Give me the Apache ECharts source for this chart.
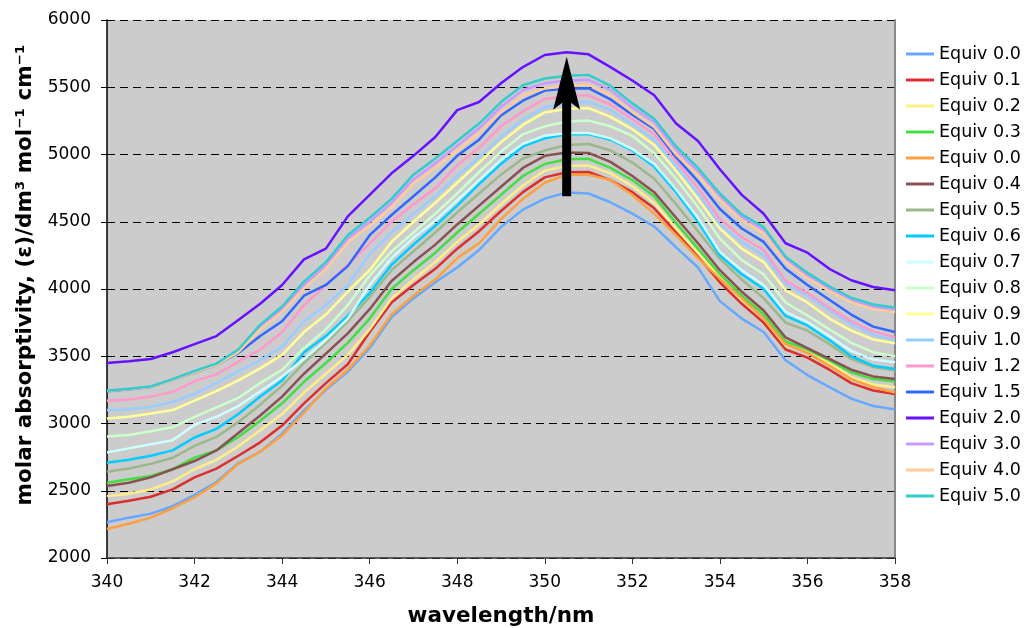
<!DOCTYPE html>
<html><head><meta charset="utf-8">
<script src="https://cdn.jsdelivr.net/npm/echarts@6/dist/echarts.min.js"></script>
<style>html,body{margin:0;padding:0;background:#fff}#chart{width:1024px;height:628px}</style>
</head><body><div id="chart"></div>
<script>
const wavelengths = [340,340.5,341,341.5,342,342.5,343,343.5,344,344.5,345,345.5,346,346.5,347,347.5,348,348.5,349,349.5,350,350.5,351,351.5,352,352.5,353,353.5,354,354.5,355,355.5,356,356.5,357,357.5,358];

const eq00a = [2266,2300,2330,2385,2470,2565,2705,2790,2925,3095,3250,3385,3560,3790,3930,4050,4160,4290,4460,4590,4672,4718,4710,4645,4560,4465,4310,4160,3910,3780,3680,3470,3360,3270,3185,3130,3105];
const eq01 = [2400,2425,2455,2510,2600,2665,2760,2860,2985,3150,3300,3440,3680,3900,4030,4150,4300,4430,4580,4720,4830,4868,4870,4810,4720,4600,4420,4240,4050,3890,3750,3550,3490,3400,3300,3245,3220];
const eq02 = [2460,2478,2510,2570,2660,2730,2830,2950,3070,3230,3370,3510,3700,3930,4070,4200,4350,4480,4630,4770,4880,4915,4918,4860,4765,4640,4450,4270,4085,3920,3780,3580,3545,3450,3345,3290,3270];
const eq03 = [2560,2585,2610,2660,2746,2800,2900,3020,3150,3310,3450,3600,3780,4000,4140,4270,4420,4560,4700,4840,4930,4965,4968,4900,4810,4690,4490,4300,4110,3950,3810,3610,3550,3470,3380,3330,3313];
const eq00b = [2215,2255,2300,2370,2450,2555,2700,2790,2910,3080,3260,3400,3580,3810,3950,4070,4230,4340,4520,4670,4790,4850,4850,4810,4700,4560,4400,4230,4075,3930,3780,3590,3525,3430,3330,3270,3230];
const eq04 = [2535,2560,2600,2660,2721,2800,2930,3060,3200,3370,3520,3670,3850,4060,4200,4330,4480,4620,4760,4900,4990,5015,5012,4945,4840,4720,4530,4340,4140,3980,3840,3640,3560,3480,3400,3350,3331];
const eq05 = [2642,2665,2700,2745,2833,2900,3010,3140,3280,3450,3600,3760,3940,4140,4280,4420,4570,4710,4850,4970,5030,5070,5078,5030,4940,4820,4630,4430,4226,4070,3930,3750,3690,3590,3480,3420,3393];
const eq06 = [2709,2730,2760,2800,2896,2960,3070,3200,3320,3530,3650,3800,3970,4180,4330,4470,4620,4780,4930,5060,5120,5150,5152,5110,5030,4910,4720,4500,4250,4110,4000,3800,3729,3620,3500,3430,3405];
const eq07 = [2785,2815,2845,2875,2990,3050,3130,3240,3350,3480,3620,3780,4030,4230,4380,4510,4660,4810,4960,5080,5140,5160,5160,5120,5040,4930,4740,4530,4276,4140,4030,3830,3754,3650,3540,3475,3455];
const eq08 = [2903,2915,2942,2972,3050,3120,3190,3300,3400,3560,3700,3880,4100,4280,4420,4560,4710,4870,5020,5150,5209,5245,5252,5210,5139,5010,4820,4610,4375,4215,4110,3900,3803,3700,3600,3530,3500];
const eq09 = [3037,3050,3075,3100,3170,3240,3320,3410,3510,3680,3810,3980,4140,4350,4500,4640,4790,4940,5090,5220,5313,5340,5345,5280,5188,5070,4880,4670,4450,4300,4200,3990,3900,3780,3690,3625,3597];
const eq10 = [3100,3105,3125,3160,3220,3300,3390,3470,3570,3760,3880,4030,4260,4420,4560,4690,4840,4980,5130,5260,5350,5385,5390,5330,5225,5110,4910,4710,4480,4350,4250,4040,3950,3840,3740,3660,3620];
const eq12 = [3170,3178,3200,3235,3315,3365,3460,3550,3680,3880,4030,4180,4340,4500,4630,4750,4920,5050,5210,5320,5413,5435,5440,5370,5263,5150,4950,4750,4520,4385,4290,4060,3970,3860,3760,3685,3640];
const eq15 = [3240,3255,3272,3325,3380,3435,3525,3650,3760,3950,4030,4170,4400,4550,4690,4830,4990,5110,5290,5400,5475,5490,5493,5410,5295,5190,4980,4800,4595,4450,4350,4150,4030,3920,3810,3720,3680];
const eq20 = [3450,3462,3480,3530,3590,3650,3770,3890,4030,4220,4300,4540,4700,4860,4990,5130,5330,5390,5530,5650,5740,5760,5745,5650,5550,5440,5230,5100,4890,4700,4560,4340,4270,4150,4065,4015,3990];
const eq30 = [3244,3258,3274,3328,3386,3440,3540,3720,3850,4030,4175,4375,4500,4640,4815,4935,5065,5195,5355,5480,5530,5550,5555,5480,5350,5240,5035,4875,4690,4535,4440,4225,4105,4005,3920,3870,3848];
const eq40 = [3242,3256,3272,3325,3382,3435,3530,3700,3830,4005,4150,4345,4470,4605,4785,4900,5030,5160,5315,5440,5490,5510,5518,5440,5315,5205,5000,4845,4660,4510,4415,4200,4080,3985,3900,3850,3828];
const eq50 = [3244,3258,3275,3330,3390,3445,3550,3735,3870,4055,4200,4400,4530,4670,4850,4970,5100,5230,5390,5515,5565,5585,5592,5510,5380,5265,5060,4900,4710,4555,4460,4240,4120,4020,3935,3885,3862];

const seriesNames = ['Equiv 0.0','Equiv 0.1','Equiv 0.2','Equiv 0.3','Equiv 0.0 ','Equiv 0.4','Equiv 0.5','Equiv 0.6','Equiv 0.7','Equiv 0.8','Equiv 0.9','Equiv 1.0','Equiv 1.2','Equiv 1.5','Equiv 2.0','Equiv 3.0','Equiv 4.0','Equiv 5.0'];
const seriesValues = [eq00a,eq01,eq02,eq03,eq00b,eq04,eq05,eq06,eq07,eq08,eq09,eq10,eq12,eq15,eq20,eq30,eq40,eq50];
const seriesColors = ['#66A8FF','#DD2E2E','#FFEE88','#44DD44','#FFA040','#885252','#9CB88A','#00CCFF','#CCFFFF','#CCFFCC','#FFFF99','#99CCFF','#FF99CC','#3366FF','#6611FF','#CC99FF','#FFCC99','#33CCCC'];

const arrowWavelength = 350.5;
const arrowFrom = 4690;
const arrowTo = 5727;

const FONT = 'DejaVu Sans';
const chart = echarts.init(document.getElementById('chart'), null, {renderer: 'canvas'});

const series = seriesNames.map((name, i) => ({
  name: name,
  type: 'line',
  symbol: 'none',
  showSymbol: false,
  color: seriesColors[i],
  itemStyle: {color: seriesColors[i]},
  lineStyle: {width: 2.5, color: seriesColors[i]},
  data: wavelengths.map((w, j) => [w, seriesValues[i][j]]),
  z: 2
}));

chart.setOption({
  animation: false,
  backgroundColor: '#ffffff',
  grid: {left: 107, right: 129, top: 20, bottom: 70, show: true, backgroundColor: '#CCCCCC', borderWidth: 0, outerBoundsMode: 'none', containLabel: false},
  legend: {
    orient: 'vertical', left: 906, top: 45, padding: 0, itemGap: 8, itemWidth: 28, itemHeight: 3,
    icon: 'rect',
    textStyle: {fontFamily: FONT, fontSize: 17.5, color: '#000'},
    data: seriesNames
  },
  xAxis: {
    type: 'value', min: 340, max: 358, interval: 2,
    name: 'wavelength/nm', nameLocation: 'middle', nameGap: 47,
    nameTextStyle: {fontFamily: FONT, fontSize: 21.5, fontWeight: 'bold', color: '#000'},
    axisLine: {show: true, lineStyle: {color: '#333', width: 1.5}},
    axisTick: {show: true, length: 6, lineStyle: {color: '#333'}},
    axisLabel: {fontFamily: FONT, fontSize: 17, color: '#000', margin: 16},
    splitLine: {show: false}
  },
  yAxis: [{
    type: 'value', min: 2000, max: 6000, interval: 500,
    name: 'molar absorptivity, (ε)/dm³ mol⁻¹ cm⁻¹', nameLocation: 'middle', nameGap: 66,
    nameTextStyle: {fontFamily: FONT, fontSize: 21.5, fontWeight: 'bold', color: '#000', padding: [0, 0, 0, 28]},
    axisLine: {show: true, lineStyle: {color: '#000', width: 1.5}},
    axisTick: {show: true, length: 6, lineStyle: {color: '#000'}},
    axisLabel: {fontFamily: FONT, fontSize: 17, color: '#000', margin: 16, formatter: v => String(v)},
    splitLine: {show: true, lineStyle: {color: '#000', width: 1, type: [8, 5]}}
  }, {
    type: 'value', min: 2000, max: 6000, interval: 500, position: 'right',
    axisLine: {show: true, lineStyle: {color: '#888', width: 2}},
    axisTick: {show: false}, axisLabel: {show: false}, splitLine: {show: false}
  }],
  series: series
});

const base = chart.convertToPixel({gridIndex: 0}, [arrowWavelength, arrowFrom]);
const tip = chart.convertToPixel({gridIndex: 0}, [arrowWavelength, arrowTo]);
const cx = tip[0], ty = tip[1], by = base[1];
const headW = 13.5, headH = 53, notch = 46, shaftW = 4.5;
chart.setOption({
  graphic: [{
    type: 'polygon', z: 100,
    shape: {points: [
      [cx, ty], [cx + headW, ty + headH], [cx + shaftW, ty + notch], [cx + shaftW, by],
      [cx - shaftW, by], [cx - shaftW, ty + notch], [cx - headW, ty + headH]
    ]},
    style: {fill: '#000'}
  }]
});
</script></body></html>
